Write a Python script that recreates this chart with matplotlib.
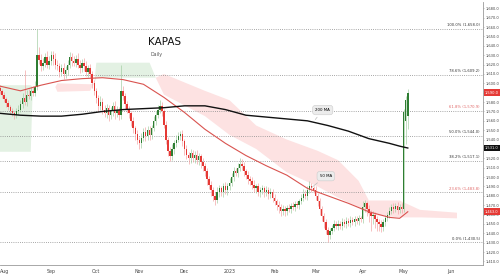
import numpy as np
import pandas as pd
import matplotlib
matplotlib.use("Agg")
import matplotlib.pyplot as plt
import matplotlib.transforms as mtransforms

# daily closes, KAPAS, from 28 Jul 2022 (trading days)
closes = [
    1592, 1588, 1583, 1579, 1575, 1571, 1568, 1566, 1570, 1572,
    1578, 1584, 1580, 1588, 1586, 1592, 1590, 1596, 1630, 1625,
    1618, 1622, 1628, 1620, 1624, 1630, 1626, 1620, 1618, 1612,
    1616, 1610, 1614, 1620, 1628, 1624, 1622, 1626, 1620, 1616,
    1622, 1618, 1612, 1616, 1610, 1600, 1592, 1584, 1576, 1580,
    1572, 1568, 1574, 1566, 1570, 1576, 1568, 1572, 1566, 1592,
    1586, 1578, 1572, 1568, 1560, 1552, 1546, 1540, 1536, 1542,
    1548, 1544, 1550, 1545, 1552, 1560, 1566, 1572, 1576, 1570,
    1556, 1540, 1528, 1522, 1530, 1536, 1540, 1544, 1546, 1538,
    1530, 1524, 1520, 1526, 1520, 1524, 1518, 1522, 1516, 1512,
    1506, 1498, 1492, 1486, 1480, 1476, 1484, 1488, 1484, 1490,
    1486, 1490, 1494, 1500, 1506, 1504, 1510, 1514, 1512, 1506,
    1502, 1498, 1496, 1492, 1488, 1490, 1484, 1486, 1488, 1484,
    1486, 1482, 1484, 1478, 1474, 1470, 1468, 1464, 1466, 1464,
    1467, 1466, 1469, 1468, 1471, 1470, 1474, 1478, 1482, 1480,
    1486, 1490, 1488, 1486, 1480, 1474, 1466, 1458, 1452, 1444,
    1438, 1442, 1446, 1450, 1448, 1450, 1448, 1452, 1450, 1453,
    1451, 1454, 1452, 1455, 1453, 1456, 1455, 1468, 1472, 1466,
    1462, 1458, 1460, 1455, 1452, 1450, 1447, 1452, 1456, 1460,
    1464, 1468, 1466, 1469, 1465, 1468, 1466, 1569, 1582, 1590,
]
first_open = 1595
gap_opens = {198: 1560, 199: 1565}

up_wick = [
    3, 2, 3, 2, 3, 2, 3, 2, 4, 5, 4, 6, 30, 5, 6, 4, 5, 6, 28, 9,
    6, 5, 4, 6, 5, 4, 5, 6, 5, 4, 5, 6, 4, 5, 5, 4, 5, 4, 6, 5,
    4, 5, 6, 4, 5, 3, 4, 3, 4, 6, 4, 5, 4, 3, 5, 4, 5, 4, 3, 28,
    5, 4, 3, 4, 3, 4, 3, 4, 3, 5, 4, 5, 4, 5, 4, 5, 4, 5, 6, 4,
    3, 4, 3, 4, 5, 4, 5, 4, 3, 4, 3, 4, 3, 4, 3, 4, 5, 4, 3, 4,
    3, 4, 3, 4, 3, 4, 5, 4, 3, 4, 5, 4, 5, 4, 5, 4, 5, 6, 5, 4,
    3, 4, 3, 4, 5, 3, 4, 3, 4, 3, 4, 3, 4, 3, 4, 3, 4, 3, 4, 3,
    3, 4, 3, 4, 3, 4, 3, 4, 5, 4, 5, 6, 4, 3, 4, 3, 4, 3, 4, 3,
    3, 4, 3, 4, 3, 4, 3, 4, 3, 4, 3, 4, 3, 4, 3, 4, 3, 7, 4, 3,
    4, 3, 4, 3, 4, 3, 4, 3, 4, 3, 4, 3, 4, 3, 4, 3, 4, 4, 4, 4,
]
dn_wick = [
    3, 4, 3, 4, 3, 4, 3, 4, 3, 4, 3, 4, 3, 4, 3, 4, 3, 4, 3, 4,
    5, 4, 5, 4, 5, 4, 6, 5, 4, 5, 4, 5, 4, 5, 4, 5, 4, 5, 4, 5,
    4, 5, 4, 5, 4, 5, 4, 5, 6, 4, 5, 4, 5, 6, 4, 5, 6, 4, 5, 4,
    4, 5, 4, 5, 6, 5, 6, 5, 6, 5, 4, 5, 4, 5, 4, 3, 4, 3, 4, 5,
    4, 5, 6, 5, 4, 5, 4, 3, 4, 5, 6, 5, 6, 5, 4, 5, 4, 5, 6, 5,
    5, 6, 5, 6, 5, 6, 4, 5, 4, 5, 4, 5, 4, 3, 4, 3, 4, 3, 4, 5,
    4, 5, 4, 5, 4, 5, 4, 5, 4, 5, 4, 5, 4, 5, 4, 5, 6, 5, 4, 5,
    4, 3, 4, 3, 4, 3, 4, 3, 4, 3, 4, 3, 4, 3, 4, 5, 6, 5, 6, 5,
    7, 4, 3, 4, 3, 4, 3, 4, 3, 4, 3, 4, 3, 4, 3, 4, 3, 4, 5, 8,
    10, 15, 8, 9, 10, 8, 6, 5, 4, 3, 4, 3, 4, 3, 4, 3, 4, 3, 25, 14,
]

# moving averages, read every few bars
ma_idx = [0, 10, 20, 30, 40, 50, 60, 70, 80, 90, 100, 110, 120, 130,
          140, 150, 160, 170, 180, 190, 195, 199]
ma50 = [1597, 1592, 1598, 1603, 1605, 1606, 1604, 1599, 1585, 1569, 1551,
        1536, 1523, 1512, 1502, 1488, 1480, 1472, 1463, 1457, 1456, 1463]
ma200 = [1568, 1566, 1565, 1565, 1567, 1570, 1572, 1573, 1574, 1576, 1576,
         1572, 1566, 1564, 1562, 1560, 1555, 1549, 1541, 1536, 1533, 1531]

# ichimoku cloud (leading spans)
cloud_idx = [0, 15, 16, 27, 28, 44, 46, 47, 73, 76, 80, 100, 112, 125,
             140, 155, 165, 175, 180, 195, 205, 223]
span_a = [1598, 1598, 1596, 1596, 1591, 1592, 1600, 1622, 1622, 1606, 1588,
          1565, 1545, 1530, 1505, 1490, 1478, 1468, 1460, 1457, 1457, 1456]
span_b = [1527, 1527, 1596, 1596, 1600, 1599, 1600, 1606, 1606, 1606, 1610,
          1592, 1582, 1555, 1540, 1528, 1518, 1496, 1475, 1475, 1465, 1462]

fib_pct = ["100.0%", "78.6%", "61.8%", "50.0%", "38.2%", "23.6%", "0.0%"]
fib_lvl = [1658.0, 1609.2, 1570.9, 1544.0, 1517.1, 1483.8, 1430.5]
fib_red = ["61.8%", "23.6%"]

n = len(closes)
opens = [first_open] + closes[:-1]
for k, v in gap_opens.items():
    opens[k] = v
highs = [max(o, c) + w for o, c, w in zip(opens, closes, up_wick)]
lows = [min(o, c) - w for o, c, w in zip(opens, closes, dn_wick)]

dates = pd.bdate_range("2022-07-28", "2023-06-30")
x = np.arange(n)

fig = plt.figure(figsize=(5, 2.8), dpi=100)
ax = fig.add_axes([0, 1 - 265 / 280, 483 / 500, 263.5 / 280])

# cloud
ci = np.array(cloud_idx)
sa = np.array(span_a, float)
sb = np.array(span_b, float)
ax.fill_between(ci, sa, sb, where=sa >= sb, color="#e3f1e3", lw=0, interpolate=True, zorder=1)
ax.fill_between(ci, sa, sb, where=sa < sb, color="#fde2e2", lw=0, interpolate=True, zorder=1)

# fib levels
for p, l in zip(fib_pct, fib_lvl):
    ax.axhline(l, color="#8a8a8a", lw=0.6, ls=(0, (1, 1.6)), zorder=2)
    col = "#e06666" if p in fib_red else "#333333"
    ax.text(234.2, l + 1.8, f"{p} ({l:,.1f})", ha="right", va="bottom",
            fontsize=2.7, color=col, zorder=5)

# candles
for i in range(n):
    o, c = opens[i], closes[i]
    up = c >= o
    wc = "#a6cfa6" if up else "#f3a6a6"
    bc = "#2e7d32" if up else "#e53935"
    ax.vlines(i, lows[i], highs[i], color=wc, lw=0.5, zorder=3)
    ax.bar(i, max(abs(c - o), 0.8), bottom=min(o, c), width=0.7, color=bc,
           lw=0, zorder=4)

ax.plot(ma_idx, ma50, color="#d9534f", lw=0.8, zorder=5)
ax.plot(ma_idx, ma200, color="#111111", lw=1.0, zorder=5)

ax.annotate("200 MA", xy=(153, 1559), xytext=(157.5, 1571.5), fontsize=2.8,
            ha="center", va="center", zorder=6,
            bbox=dict(boxstyle="round,pad=0.7", fc="#ececec", ec="#cccccc", lw=0.4),
            arrowprops=dict(arrowstyle="-", color="#bbbbbb", lw=0.5))
ax.annotate("50 MA", xy=(151, 1487), xytext=(159, 1501), fontsize=2.8,
            ha="center", va="center", zorder=6,
            bbox=dict(boxstyle="round,pad=0.7", fc="#ececec", ec="#cccccc", lw=0.4),
            arrowprops=dict(arrowstyle="-", color="#bbbbbb", lw=0.5))

ax.text(72, 1644, "KAPAS", fontsize=7.5, color="#111111", ha="left", va="center")
ax.text(73.5, 1631, "Daily", fontsize=3.4, color="#555555", ha="left", va="center")

ax.set_xlim(0, 235.7)
ax.set_ylim(1406.2, 1687.3)

# month ticks
tick_pos, tick_lab = [], []
for k in range(1, len(dates)):
    if dates[k].month != dates[k - 1].month:
        tick_pos.append(k)
        tick_lab.append("2023" if dates[k].month == 1 else dates[k].strftime("%b"))
ax.set_xticks(tick_pos)
ax.set_xticklabels(tick_lab)
ax.tick_params(axis="x", length=0, labelsize=3.4, labelcolor="#444444", pad=3)

ax.yaxis.tick_right()
yt = np.arange(1410, 1681, 10)
ax.set_yticks(yt)
ax.set_yticklabels([f"{v:,.1f}" for v in yt])
ax.tick_params(axis="y", length=1.0, width=0.4, color="#999999", labelsize=2.6,
               labelcolor="#444444", pad=1.0)

for s in ["top", "left"]:
    ax.spines[s].set_visible(False)
for s in ["right", "bottom"]:
    ax.spines[s].set_color("#9a9a9a")
    ax.spines[s].set_linewidth(0.6)

# price tags on the axis
trans = mtransforms.blended_transform_factory(ax.transAxes, ax.transData)
tags = [(closes[-1], "#e53935", "white"), (ma200[-1], "#111111", "white"),
        (ma50[-1], "#e53935", "white")]
for v, fc, tc in tags:
    ax.text(1.004, v, f"{v:,.1f}", transform=trans, fontsize=2.6, color=tc,
            ha="left", va="center", zorder=7,
            bbox=dict(boxstyle="square,pad=0.35", fc=fc, ec="none"))

fig.savefig("out.png", dpi=100)
